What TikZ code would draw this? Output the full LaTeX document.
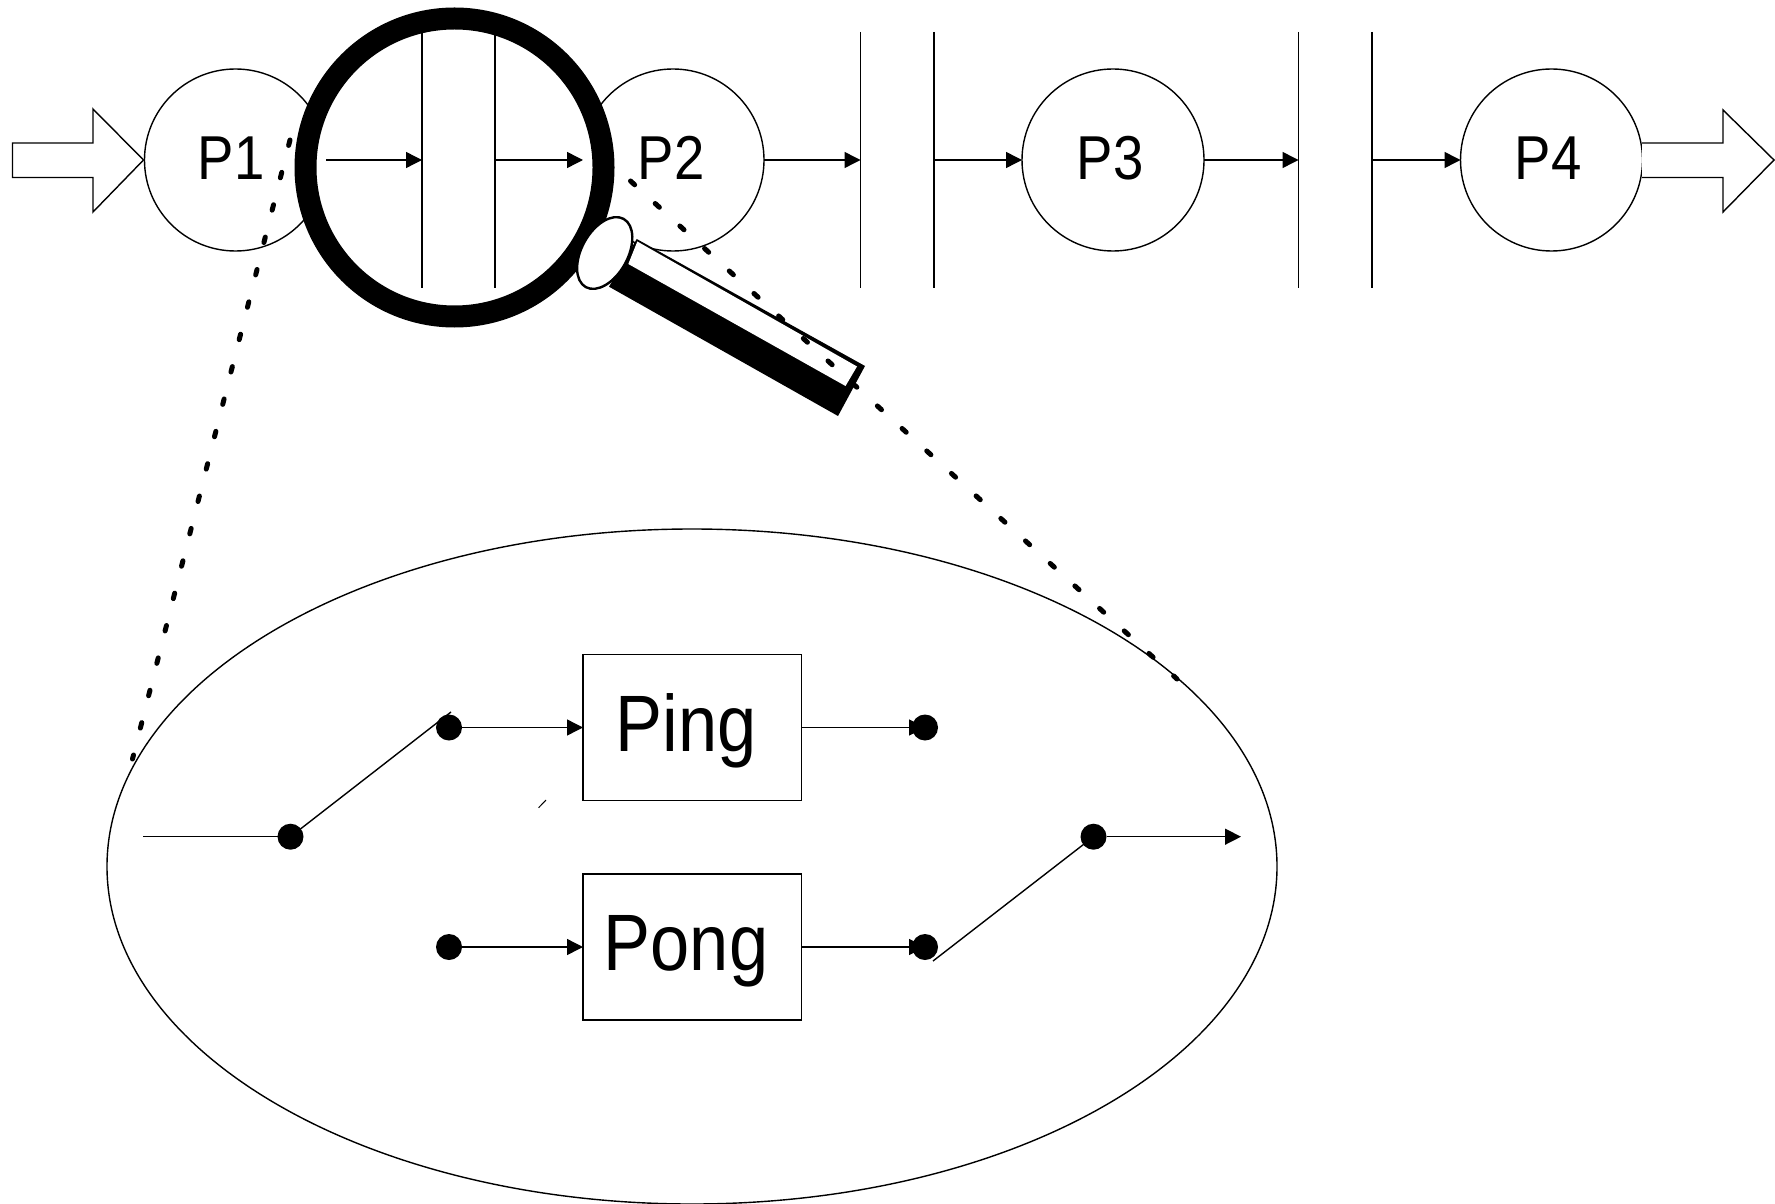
\documentclass[tikz,border=0pt]{standalone}
\usepackage{fontspec}
\setmainfont{Liberation Sans}
\newfontfamily\narrowfont[FakeStretch=0.88]{Liberation Sans}
\usetikzlibrary{arrows.meta,shapes.geometric}
\tikzset{
  x=0.5pt,y=-0.5pt,
  thin line/.style={line width=0.7pt,black},
  flow/.style={thin line,-{Triangle[length=8pt,width=8pt]},shorten >=0pt,shorten <=0pt},
  proc/.style={circle,draw,line width=0.7pt,fill=white,minimum size=91pt,inner sep=0pt,outer sep=0pt},
  bar/.style={thin line},
  blockbox/.style={rectangle,draw,line width=0.7pt,fill=white,minimum width=109.25pt,minimum height=73pt,inner sep=0pt,outer sep=0pt},
  pin/.style={circle,fill=black,minimum size=13pt,inner sep=0pt,outer sep=0pt},
  plabel/.style={anchor=base,font=\narrowfont\fontsize{31}{31}\selectfont,inner sep=0pt},
  blabel/.style={anchor=base,font=\narrowfont\fontsize{40}{40}\selectfont,inner sep=0pt},
  zoomline/.style={line width=2.5pt,line cap=round,dash pattern=on 2.8pt off 13.9pt},
  hollow/.style={draw,line width=0.7pt,fill=white,line join=miter},
}
\begin{document}
\begin{tikzpicture}
\useasboundingbox (0,0) rectangle (1775,1203);
% process circles
\node[proc] (P1) at (235.5,160) {};
\node[proc] (P2) at (673,160) {};
\node[proc] (P3) at (1113,160) {};
\node[proc] (P4) at (1551.5,160) {};
% hollow arrows
\draw[hollow] (12.5,143) -- (93,143) -- (93,109) -- (143.5,160) -- (93,212) -- (93,177.5) -- (12.5,177.5) -- cycle;
\draw[hollow] (1642,143) -- (1723,143) -- (1723,110) -- (1774,160) -- (1723,212) -- (1723,177.5) -- (1642,177.5);
% magnifier lens
\node[circle,draw=black,fill=white,line width=11pt,minimum size=149pt,inner sep=0pt] (lens) at (454.5,167.5) {};
% bars
\coordinate (b1t) at (422,32); \coordinate (b1b) at (422,288); \coordinate (b1m) at (422,160);
\coordinate (b2t) at (495,32); \coordinate (b2b) at (495,288); \coordinate (b2m) at (495,160);
\coordinate (b3t) at (860.5,32); \coordinate (b3b) at (860.5,288); \coordinate (b3m) at (860.5,160);
\coordinate (b4t) at (934,32); \coordinate (b4b) at (934,288); \coordinate (b4m) at (934,160);
\coordinate (b5t) at (1298.5,32); \coordinate (b5b) at (1298.5,288); \coordinate (b5m) at (1298.5,160);
\coordinate (b6t) at (1372,32); \coordinate (b6b) at (1372,288); \coordinate (b6m) at (1372,160);
\foreach \b in {b1,b2,b3,b4,b5,b6} \draw[bar] (\b t) -- (\b b);
% flows
\coordinate (lin) at (326,160); \coordinate (lout) at (583,160);
\draw[flow] (lin) -- (b1m);
\draw[flow] (b2m) -- (lout);
\draw[flow] (P2.east) -- (b3m);
\draw[flow] (b4m) -- (P3.west);
\draw[flow] (P3.east) -- (b5m);
\draw[flow] (b6m) -- (P4.west);
% handle
\fill[black] (636.7,239) -- (865,366) -- (838,416) -- (609,286.7) -- cycle;
\fill[white] (637.3,241.5) -- (857,366.5) -- (845.5,386) -- (628.3,264) -- cycle;
\node[ellipse,draw,fill=white,line width=1.2pt,minimum width=39pt,minimum height=23pt,inner sep=0pt,outer sep=0pt,rotate=61] (grip) at (604.7,253) {};
% process labels
\node[plabel] (tP1) at (231,180) {P1};
\node[plabel] (tP2) at (671,180) {P2};
\node[plabel] (tP3) at (1110,180) {P3};
\node[plabel] (tP4) at (1548,180) {P4};
% big ellipse
\node[ellipse,draw,line width=0.7pt,minimum width=585pt,minimum height=337.5pt,inner sep=0pt,outer sep=0pt] (zoomed) at (692,866.5) {};
% zoom lines
\coordinate (zl1) at (290,140); \coordinate (zl2) at (132.5,759);
\coordinate (zr1) at (630.5,181); \coordinate (zr2) at (1177,679);
\draw[zoomline] (zl1) -- (zl2);
\draw[zoomline] (zr1) -- (zr2);
% blocks
\node[blockbox] (ping) at (692.25,727.5) {};
\node[blockbox] (pong) at (692.25,947) {};
\node[blabel] (tping) at (686,751) {Ping};
\node[blabel] (tpong) at (686,970) {Pong};
% pins
\node[pin] (s0) at (290.5,836.7) {};
\node[pin] (s1) at (449,727.5) {};
\node[pin] (s2) at (449,947) {};
\node[pin] (t1) at (925,727.5) {};
\node[pin] (t2) at (925,947) {};
\node[pin] (t0) at (1093.5,836.7) {};
\coordinate (in) at (143,836.7);
\coordinate (out) at (1241,836.7);
\coordinate (stub) at (451,712);
\coordinate (swend) at (933,961);
\coordinate (m1) at (538.6,807.7); \coordinate (m2) at (546,800);
\draw[thin line] (in) -- (s0);
\draw[thin line] (s0.center) -- (stub);
\draw[flow] (s1) -- (ping.west);
\draw[flow] (s2) -- (pong.west);
\draw[flow] (ping.east) -- (t1.center);
\draw[flow] (pong.east) -- (t2.center);
\draw[thin line] (swend) -- (t0.center);
\draw[flow] (t0) -- (out);
\draw[line width=0.5pt] (m1) -- (m2);
\end{tikzpicture}
\end{document}
